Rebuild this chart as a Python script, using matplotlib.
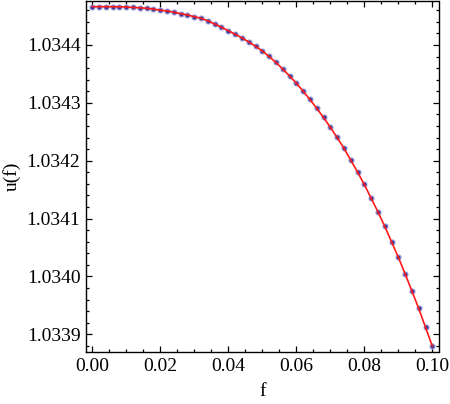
import numpy as np
import matplotlib
matplotlib.use("Agg")
import matplotlib.pyplot as plt
from matplotlib.ticker import MultipleLocator, FormatStrFormatter

f_vals = [0.000, 0.002, 0.004, 0.006, 0.008, 0.010, 0.012, 0.014, 0.016, 0.018,
          0.020, 0.022, 0.024, 0.026, 0.028, 0.030, 0.032, 0.034, 0.036, 0.038,
          0.040, 0.042, 0.044, 0.046, 0.048, 0.050, 0.052, 0.054, 0.056, 0.058,
          0.060, 0.062, 0.064, 0.066, 0.068, 0.070, 0.072, 0.074, 0.076, 0.078,
          0.080, 0.082, 0.084, 0.086, 0.088, 0.090, 0.092, 0.094, 0.096, 0.098,
          0.100]
u_vals = [1.0344662, 1.0344662, 1.0344662, 1.0344661, 1.0344660, 1.0344657,
          1.0344648, 1.0344643, 1.0344634, 1.0344619, 1.0344601, 1.0344588,
          1.0344565, 1.0344541, 1.0344518, 1.0344489, 1.0344460, 1.0344417,
          1.0344363, 1.0344306, 1.0344247, 1.0344185, 1.0344124, 1.0344052,
          1.0343978, 1.0343896, 1.0343801, 1.0343698, 1.0343585, 1.0343464,
          1.0343340, 1.0343202, 1.0343058, 1.0342906, 1.0342747, 1.0342578,
          1.0342401, 1.0342215, 1.0342012, 1.0341805, 1.0341589, 1.0341352,
          1.0341117, 1.0340867, 1.0340600, 1.0340331, 1.0340046, 1.0339748,
          1.0339446, 1.0339121, 1.0338798]

x_label = "f"
y_label = "u(f)"

plt.rcParams['font.family'] = ['Liberation Serif', 'DejaVu Serif']

fig = plt.figure(figsize=(4.5, 4.04), dpi=100)
ax = fig.add_axes([86/450, 1 - 352/404, (438.5 - 86)/450, (352 - 1)/404])

ax.plot(f_vals, u_vals, 'o', color='#3b3b98', markersize=3.6,
        markeredgecolor='#9a9ad8', markeredgewidth=0.8, zorder=2)
ax.plot(f_vals, u_vals, '-', color='#ff1a1a', linewidth=1.2, zorder=3)

ax.set_xlim(-0.00185, 0.10182)
ax.set_ylim(1.0338694, 1.0344760)

ax.xaxis.set_major_locator(MultipleLocator(0.02))
ax.xaxis.set_minor_locator(MultipleLocator(0.005))
ax.yaxis.set_major_locator(MultipleLocator(0.0001))
ax.yaxis.set_minor_locator(MultipleLocator(0.00002))
ax.xaxis.set_major_formatter(FormatStrFormatter('%.2f'))
ax.yaxis.set_major_formatter(FormatStrFormatter('%.4f'))

ax.tick_params(which='both', direction='in', top=True, right=True,
               labelsize=14, color='black', width=0.9)
ax.tick_params(which='major', length=4.5, pad=4)
ax.tick_params(which='minor', length=2.5)
for s in ax.spines.values():
    s.set_linewidth(1.0)

ax.set_xlabel(x_label, fontsize=14, labelpad=6)
ax.set_ylabel(y_label, fontsize=14, labelpad=4)

fig.savefig("out.png", dpi=100)
